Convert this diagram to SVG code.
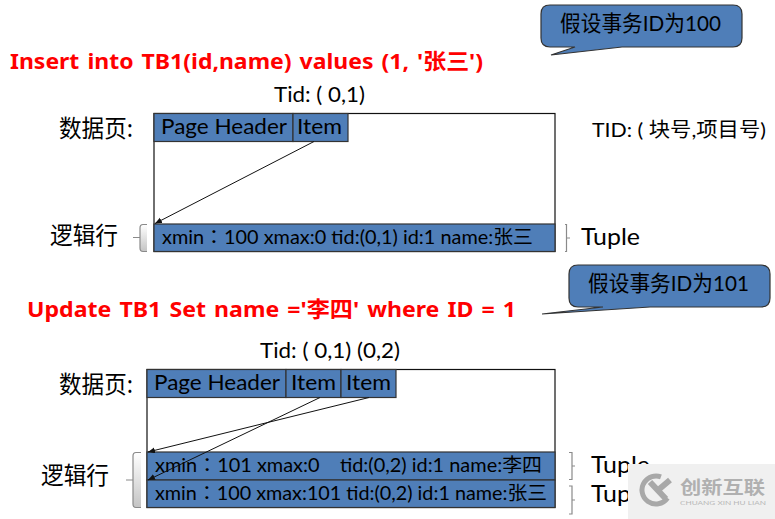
<svg xmlns="http://www.w3.org/2000/svg" width="775" height="519" viewBox="0 0 775 519">
<style>
text{font-family:"Lato","Noto Sans CJK SC",sans-serif;fill:#000}
.cjk{font-family:"Noto Sans CJK SC",sans-serif}
.fw{font-family:"Noto Sans CJK TC",sans-serif}
.red{font-family:"Noto Sans","Noto Sans CJK SC",sans-serif;font-weight:700;font-size:22px;fill:#f00;word-spacing:2px}
.t24{font-size:24px}.t20{font-size:20px}.t19{font-size:19px}.t22{font-size:22px}
.blue{fill:#4f7eb8;stroke:#333;stroke-width:1.2}
.page{fill:#fff;stroke:#111;stroke-width:1.2}
.arrow{stroke:#111;stroke-width:1;fill:none;marker-end:url(#ah)}
.brace{stroke:#8a8a8a;stroke-width:1.2;fill:none}
</style>
<defs>
<marker id="ah" markerWidth="8" markerHeight="8" refX="7" refY="3" orient="auto" markerUnits="userSpaceOnUse"><path d="M0,0L7,3L0,6z" fill="#111"/></marker>
<linearGradient id="bg" x1="0" y1="0" x2="0" y2="1"><stop offset="0" stop-color="#fff"/><stop offset="1" stop-color="#c4c4c4"/></linearGradient>
</defs>
<rect width="775" height="519" fill="#fff"/>

<g id="callout-100">
<path class="blue" d="M550,5H733Q742,5 742,14V38Q742,47 733,47H622L551,55L575,47H550Q541,47 541,38V14Q541,5 550,5z"/>
<text class="t22" x="560" y="31" textLength="161" lengthAdjust="spacingAndGlyphs">假设事务ID为100</text>
</g>
<g id="title-insert"><text class="red" x="10" y="69" textLength="473" lengthAdjust="spacingAndGlyphs">Insert into TB1(id,name) values (1, '张三')</text></g>
<g id="tid-1"><text class="t22" x="274" y="102" textLength="91" lengthAdjust="spacingAndGlyphs">Tid: ( 0,1)</text></g>
<g id="label-page-1"><text class="t24 cjk" x="59" y="137" textLength="74" lengthAdjust="spacingAndGlyphs">数据页:</text></g>
<g id="tid-legend"><text class="t20" x="592" y="137" textLength="174" lengthAdjust="spacingAndGlyphs">TID: ( 块号,项目号)</text></g>

<g id="page-1">
<rect class="page" x="154" y="113.500" width="401" height="138"/>
<rect class="blue" x="154" y="113.500" width="139" height="28"/>
<rect class="blue" x="293" y="113.500" width="55" height="28"/>
<text class="t22" x="161" y="134" textLength="126" lengthAdjust="spacingAndGlyphs">Page Header</text>
<text class="t22" x="297" y="134" textLength="45" lengthAdjust="spacingAndGlyphs">Item</text>
</g>
<g id="tuple-1">
<rect class="blue" x="154" y="224" width="401" height="27.500"/>
<text class="t19" x="162" y="244" textLength="371" lengthAdjust="spacingAndGlyphs">xmin<tspan class="fw">：</tspan>100 xmax:0 tid:(0,1) id:1 name:张三</text>
</g>
<g id="label-row-1">
<text class="t24 cjk" x="50" y="244" textLength="68" lengthAdjust="spacingAndGlyphs">逻辑行</text>
<path d="M147,224.500H143Q140,224.500 140,228V248Q140,251.500 143,251.500H147V224.500z" fill="url(#bg)" stroke="none"/>
<path class="brace" d="M147,224.500H143Q140,224.500 140,228V237.500H133M140,237.500V248Q140,251.500 143,251.500H147"/>
</g>
<g id="label-tuple-1">
<path class="brace" d="M565,224.500H566.500V251.500H565M566.500,238H570"/>
<text class="t24" x="581" y="245" textLength="59" lengthAdjust="spacingAndGlyphs">Tuple</text>
</g>

<g id="callout-101">
<path class="blue" d="M578,265H761Q770,265 770,274V298Q770,307 761,307H650L542,314L603,307H578Q569,307 569,298V274Q569,265 578,265z"/>
<text class="t22" x="588" y="291" textLength="161" lengthAdjust="spacingAndGlyphs">假设事务ID为101</text>
</g>
<g id="title-update"><text class="red" x="27" y="317" textLength="489" lengthAdjust="spacingAndGlyphs">Update TB1 Set name ='李四' where ID = 1</text></g>
<g id="tid-2"><text class="t22" x="260" y="358" textLength="140" lengthAdjust="spacingAndGlyphs">Tid: ( 0,1) (0,2)</text></g>
<g id="label-page-2"><text class="t24 cjk" x="59" y="393" textLength="74" lengthAdjust="spacingAndGlyphs">数据页:</text></g>

<g id="page-2">
<rect class="page" x="147" y="369.500" width="408" height="138"/>
<rect class="blue" x="147" y="369.500" width="139" height="28"/>
<rect class="blue" x="286" y="369.500" width="55" height="28"/>
<rect class="blue" x="341" y="369.500" width="55" height="28"/>
<text class="t22" x="154" y="390" textLength="126" lengthAdjust="spacingAndGlyphs">Page Header</text>
<text class="t22" x="291" y="390" textLength="45" lengthAdjust="spacingAndGlyphs">Item</text>
<text class="t22" x="346" y="390" textLength="45" lengthAdjust="spacingAndGlyphs">Item</text>
</g>
<g id="tuple-2a">
<rect class="blue" x="147" y="452" width="408" height="28"/>
<text class="t19" x="155" y="472" textLength="387" lengthAdjust="spacingAndGlyphs" xml:space="preserve">xmin<tspan class="fw">：</tspan>101 xmax:0    tid:(0,2) id:1 name:李四</text>
</g>
<g id="tuple-2b">
<rect class="blue" x="147" y="480" width="408" height="27.500"/>
<text class="t19" x="155" y="500" textLength="392" lengthAdjust="spacingAndGlyphs">xmin<tspan class="fw">：</tspan>100 xmax:101 tid:(0,2) id:1 name:张三</text>
</g>
<g id="label-row-2">
<text class="t24 cjk" x="41" y="484" textLength="68" lengthAdjust="spacingAndGlyphs">逻辑行</text>
<path d="M141,452.500H136Q133,452.500 133,456V504Q133,507.500 136,507.500H141V452.500z" fill="url(#bg)" stroke="none"/>
<path class="brace" d="M141,452.500H136Q133,452.500 133,456V480H126M133,480V504Q133,507.500 136,507.500H141"/>
</g>
<g id="label-tuple-2a">
<path class="brace" d="M569,452.500H572V479.500H569M572,466H575"/>
<text class="t24" x="591" y="473" textLength="59" lengthAdjust="spacingAndGlyphs">Tuple</text>
</g>
<g id="label-tuple-2b">
<path class="brace" d="M569,486H572V514H569M572,500H575"/>
<text class="t24" x="591" y="502" textLength="59" lengthAdjust="spacingAndGlyphs">Tuple</text>
</g>

<g id="connectors">
<line class="arrow" x1="314" y1="141.500" x2="155" y2="223.500"/>
<line class="arrow" x1="320" y1="397.500" x2="148" y2="480"/>
<line class="arrow" x1="369" y1="397.500" x2="148" y2="452"/>
</g>

<g id="watermark">
<rect x="628" y="464" width="147" height="55" fill="#f0f0f0"/>
<circle cx="656" cy="490" r="14" fill="none" stroke="#a8a8a8" stroke-width="5" stroke-dasharray="62 26" transform="rotate(35 656 490)"/>
<path d="M650,482L666,499M670,480L657,491" stroke="#a8a8a8" stroke-width="6" fill="none"/>
<text class="cjk" x="680" y="494" font-size="18" font-weight="700" style="fill:#b0b0b0" textLength="85" lengthAdjust="spacingAndGlyphs">创新互联</text>
<text x="680" y="505" font-size="5.500" style="fill:#b8b8b8" textLength="86" lengthAdjust="spacingAndGlyphs">CHUANG XIN HU LIAN</text>
</g>
</svg>
